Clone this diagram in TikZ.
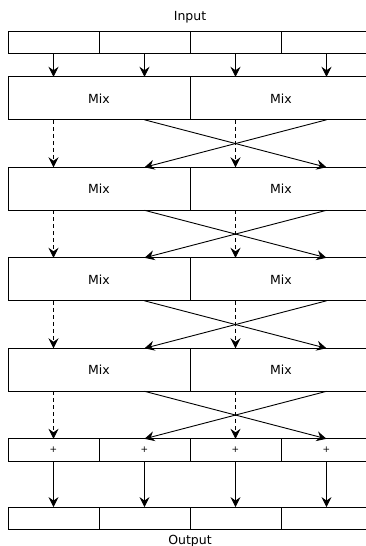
\documentclass[tikz,border=0pt]{standalone}
\usepackage{fontspec}
\setmainfont{DejaVu Sans}
\usetikzlibrary{positioning,arrows.meta}
\tikzset{
  cell/.style={draw,minimum width=91pt,minimum height=22.3pt,inner sep=0pt,outer sep=0pt},
  mixer/.style={draw,minimum width=182pt,minimum height=43pt,inner sep=0pt,outer sep=0pt},
  adder/.style={cell,font=\fontsize{9}{10}\selectfont},
  skip/.style={dash pattern=on 4pt off 3pt},
  >={Stealth[length=10pt,width=10pt,inset=3.5pt]}
}

\begin{document}
\begin{tikzpicture}[line width=0.9pt,node distance=23pt and 0pt,font=\fontsize{12.5}{14}\selectfont]
  \useasboundingbox (0,0) rectangle (366pt,-546pt);
  % input words
  \node[cell] (in1) at (53.5pt,-42.65pt) {};
  \node[cell] (in2) [right=of in1] {};
  \node[cell] (in3) [right=of in2] {};
  \node[cell] (in4) [right=of in3] {};
  \node[inner sep=0pt] (input) [above=7.5pt of in2.north east] {Input};
  % mixing rounds
  \node[mixer] (m1l) [below=of in1.south east] {Mix};
  \node[mixer] (m1r) [right=of m1l] {Mix};
  \node[mixer] (m2l) [below=47.5pt of m1l] {Mix};
  \node[mixer] (m2r) [right=of m2l] {Mix};
  \node[mixer] (m3l) [below=47.5pt of m2l] {Mix};
  \node[mixer] (m3r) [right=of m3l] {Mix};
  \node[mixer] (m4l) [below=47.5pt of m3l] {Mix};
  \node[mixer] (m4r) [right=of m4l] {Mix};
  % adders and output
  \node[adder] (p1) [below=47.5pt of m4l.south west, anchor=north west] {+};
  \node[adder] (p2) [right=of p1] {+};
  \node[adder] (p3) [right=of p2] {+};
  \node[adder] (p4) [right=of p3] {+};
  \node[cell] (out1) [below=46pt of p1] {};
  \node[cell] (out2) [right=of out1] {};
  \node[cell] (out3) [right=of out2] {};
  \node[cell] (out4) [right=of out3] {};
  \node[inner sep=0pt] (output) [below=5pt of out2.south east] {Output};

  \path[->]
  (in1) edge (in1 |- m1l.north)
  (in2) edge (in2 |- m1l.north)
  (in3) edge (in3 |- m1r.north)
  (in4) edge (in4 |- m1r.north)
  (in1 |- m1l.south) edge[skip] (in1 |- m2l.north)
  (in3 |- m1r.south) edge[skip] (in3 |- m2r.north)
  (in2 |- m1l.south) edge (in4 |- m2r.north)
  (in4 |- m1r.south) edge (in2 |- m2l.north)
  (in1 |- m2l.south) edge[skip] (in1 |- m3l.north)
  (in3 |- m2r.south) edge[skip] (in3 |- m3r.north)
  (in2 |- m2l.south) edge (in4 |- m3r.north)
  (in4 |- m2r.south) edge (in2 |- m3l.north)
  (in1 |- m3l.south) edge[skip] (in1 |- m4l.north)
  (in3 |- m3r.south) edge[skip] (in3 |- m4r.north)
  (in2 |- m3l.south) edge (in4 |- m4r.north)
  (in4 |- m3r.south) edge (in2 |- m4l.north)
  (in1 |- m4l.south) edge[skip] (p1.north)
  (in3 |- m4r.south) edge[skip] (p3.north)
  (in2 |- m4l.south) edge (p4.north)
  (in4 |- m4r.south) edge (p2.north)
  (p1) edge (out1)
  (p2) edge (out2)
  (p3) edge (out3)
  (p4) edge (out4);
\end{tikzpicture}
\end{document}
